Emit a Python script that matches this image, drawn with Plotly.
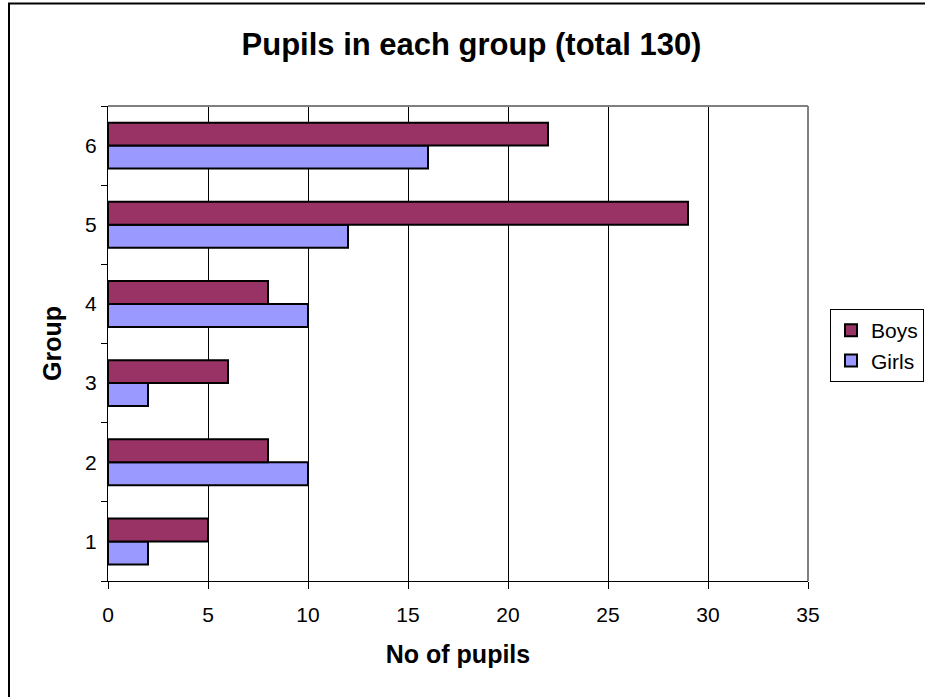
import plotly.graph_objects as go

groups = ["1", "2", "3", "4", "5", "6"]
boys = [5, 8, 6, 8, 29, 22]
girls = [2, 10, 2, 10, 12, 16]
x_ticks = [0, 5, 10, 15, 20, 25, 30, 35]

L, R, T, B = 108, 808, 106, 581
W, H = 925, 697
pw, ph = R - L, B - T

def px(x):
    return (x - L) / pw

def py(y):
    return (B - y) / ph

fig = go.Figure()
fig.add_trace(go.Bar(y=groups, x=girls, orientation="h", name="Girls",
                     marker=dict(color="#9999FF", line=dict(color="black", width=2))))
fig.add_trace(go.Bar(y=groups, x=boys, orientation="h", name="Boys",
                     marker=dict(color="#993366", line=dict(color="black", width=2))))

font = "Liberation Sans, Arial, sans-serif"
fig.update_layout(
    width=W, height=H,
    margin=dict(l=L, r=W - R, t=T, b=H - B, autoexpand=False),
    paper_bgcolor="white", plot_bgcolor="white",
    barmode="group", bargap=0.42, bargroupgap=0,
    font=dict(family=font, size=21, color="black"),
    title=dict(text="<b>Pupils in each group (total 130)</b>", x=471.5 / W, xanchor="center",
               y=1 - 44 / H, yanchor="middle", font=dict(size=31, family=font)),
    xaxis=dict(range=[0, 35], tickvals=x_ticks, showgrid=True, gridcolor="black", gridwidth=1,
               showline=True, linecolor="black", linewidth=1, ticks="outside", ticklen=7,
               tickcolor="black", zeroline=False, ticklabelstandoff=8,
               tickfont=dict(size=21),
               title=dict(text="<b>No of pupils</b>", font=dict(size=25), standoff=20)),
    yaxis=dict(type="category", categoryorder="array", categoryarray=groups,
               tickson="boundaries", ticks="outside", ticklen=6, tickcolor="black",
               showline=True, linecolor="black", linewidth=1, showgrid=False,
               ticklabelstandoff=6, tickfont=dict(size=21),
               title=dict(text="<b>Group</b>", font=dict(size=25), standoff=16)),
    legend=dict(x=px(830), y=py(309), xanchor="left", yanchor="top",
                traceorder="reversed", bordercolor="black", borderwidth=1,
                font=dict(size=21), itemwidth=30, tracegroupgap=0),
    showlegend=True,
    shapes=[
        dict(type="line", xref="paper", yref="paper", x0=0, x1=1, y0=1, y1=1,
             line=dict(color="#808080", width=2), layer="above"),
        dict(type="line", xref="paper", yref="paper", x0=1, x1=1, y0=0, y1=1,
             line=dict(color="#808080", width=2), layer="above"),
        dict(type="rect", xref="paper", yref="paper", x0=px(9), x1=px(960), y0=py(720), y1=py(3.5),
             line=dict(color="black", width=2), layer="below"),
    ],
)

fig.write_html("out.html", config={"displayModeBar": False},
               post_script="document.body.style.margin='0px';")
